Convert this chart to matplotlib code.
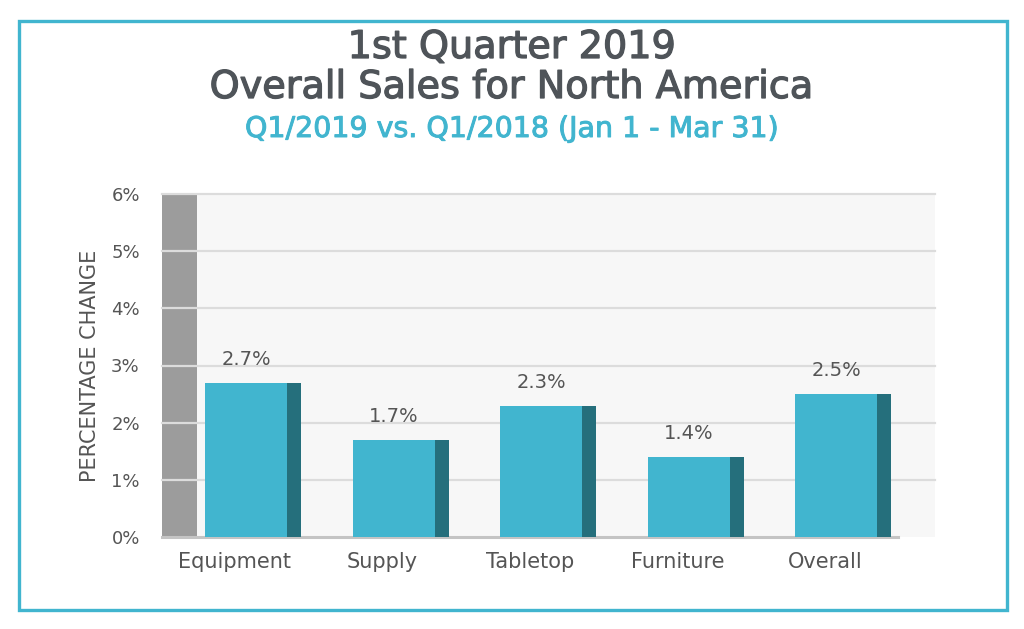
#
# Q1 2019 sales change by category, North America
#

import numpy as np
import matplotlib
matplotlib.use("Agg")
import matplotlib.pyplot as plt
import matplotlib.patheffects as pe
from matplotlib.patches import Rectangle

categories = ["Equipment", "Supply", "Tabletop", "Furniture", "Overall"]
pct_change = [2.7, 1.7, 2.3, 1.4, 2.5]
value_labels = ["2.7%", "1.7%", "2.3%", "1.4%", "2.5%"]
y_ticks = [0, 1, 2, 3, 4, 5, 6]
y_tick_labels = ["0%", "1%", "2%", "3%", "4%", "5%", "6%"]

TEAL = "#41b5cf"
TEAL_DARK = "#256f7c"
TEXT = "#4f5459"
LABEL = "#555555"

plt.rcParams["font.family"] = ["DejaVu Sans"]

fig = plt.figure(figsize=(10.24, 6.29), dpi=100)
W, H = 1024, 629

# outer teal frame
fig.patches.append(Rectangle((19 / W, 1 - 610 / H), (1007 - 19) / W, (610 - 21) / H,
                             transform=fig.transFigure, fill=False,
                             edgecolor=TEAL, linewidth=2.4, zorder=0))

ax = fig.add_axes([162 / W, 1 - 537 / H, (935 - 162) / W, (537 - 194) / H])
ax.set_facecolor("#f7f7f7")

x = np.arange(len(categories))
front_w = 0.556
side_w = 0.095
x_left = -0.5695
ax.set_xlim(x_left, 4.671)
ax.set_ylim(0, 6)

# gray "wall" on the left
ax.add_patch(Rectangle((x_left, 0), 0.2375, 6, facecolor="#9c9c9c", edgecolor="none", zorder=1))

for yv in y_ticks[1:]:
    ax.axhline(yv, color="#dcdcdc", linewidth=1.6, zorder=2, clip_on=False)
ax.plot([x_left, 4.42], [0, 0], color="#c4c4c4", linewidth=2.2, zorder=2, clip_on=False)

ax.bar(x, pct_change, width=front_w, color=TEAL, zorder=3)
ax.bar(x + front_w / 2 + side_w / 2, pct_change, width=side_w, color=TEAL_DARK, zorder=3)

for xi, v, lbl in zip(x, pct_change, value_labels):
    ax.text(xi, v + 0.41, lbl, ha="center", va="center", fontsize=14, color=LABEL)

ax.set_yticks(y_ticks)
ax.set_yticklabels(y_tick_labels, fontsize=13, color=LABEL)
ax.set_xticks(x - 0.075)
ax.set_xticklabels(categories, fontsize=15, color=LABEL)
ax.tick_params(axis="both", length=0)
ax.tick_params(axis="y", pad=16)
ax.tick_params(axis="x", pad=11)
for s in ax.spines.values():
    s.set_visible(False)

ax.text(-0.093, 0.5, "PERCENTAGE CHANGE", transform=ax.transAxes, rotation=90,
        ha="center", va="center", fontsize=15, color=LABEL)

thick = [pe.withStroke(linewidth=0.9, foreground=TEXT)]
fig.text(0.5, 1 - 58 / H, "1st Quarter 2019", ha="center", va="baseline",
         fontsize=27.5, color=TEXT, path_effects=thick)
fig.text(0.5, 1 - 98 / H, "Overall Sales for North America", ha="center", va="baseline",
         fontsize=27.5, color=TEXT, path_effects=thick)
fig.text(0.5, 1 - 137 / H, "Q1/2019 vs. Q1/2018 (Jan 1 - Mar 31)", ha="center", va="baseline",
         fontsize=20.5, color=TEAL, path_effects=[pe.withStroke(linewidth=0.7, foreground=TEAL)])

fig.savefig("out.png", dpi=100)
